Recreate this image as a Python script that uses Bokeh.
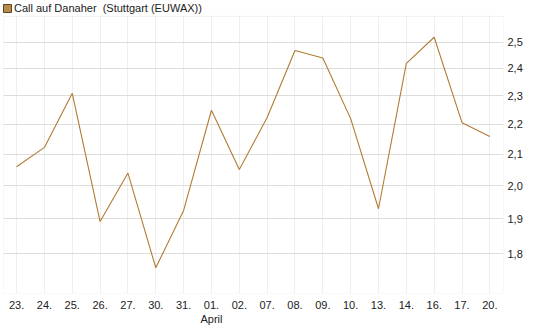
from bokeh.plotting import figure
from bokeh.models import (Range1d, FixedTicker, CustomJSTickFormatter, Legend, LegendItem,
                          ColumnDataSource, BoxAnnotation)
from bokeh.embed import file_html
from bokeh.resources import INLINE

# ---- data ----
date_labels = ["23.", "24.", "25.", "26.", "27.", "30.", "31.", "01.\nApril", "02.", "07.",
               "08.", "09.", "10.", "13.", "14.", "16.", "17.", "20."]
prices = [2.06, 2.123, 2.309, 1.892, 2.04, 1.761, 1.925, 2.249, 2.051, 2.224,
          2.468, 2.439, 2.22, 1.93, 2.419, 2.519, 2.206, 2.159]
y_ticks = [1.8, 1.9, 2.0, 2.1, 2.2, 2.3, 2.4, 2.5]
series_name = "Call auf Danaher  (Stuttgart (EUWAX))"
y_low, y_high = 1.692, 2.602      # visible value range of the plot box
y_canvas_top = 2.667              # value at the very top of the canvas (legend strip)

x_idx = list(range(len(prices)))
src = ColumnDataSource(dict(x=x_idx, y=prices))

FONT = "Liberation Sans"
LINE_COLOR = "#B07C33"
BORDER = "#CFCFCF"

p = figure(width=545, height=327, output_backend="svg", toolbar_location=None,
           y_axis_type="log", y_axis_location="right",
           x_range=Range1d(-0.47, 17.49), y_range=Range1d(y_low, y_canvas_top),
           min_border_left=3, min_border_right=42, min_border_top=0, min_border_bottom=34)

p.background_fill_color = "white"
p.border_fill_color = "white"
p.outline_line_color = None

line_r = p.line("x", "y", source=src, line_color=LINE_COLOR, line_width=1.1)

# x axis
xa = p.xaxis[0]
xa.ticker = FixedTicker(ticks=x_idx)
xa.major_label_overrides = {i: lab for i, lab in enumerate(date_labels)}
xa.major_tick_out = 0
xa.major_tick_in = 0
xa.minor_tick_out = 0
xa.minor_tick_in = 0
xa.axis_line_color = None
xa.major_label_standoff = 5
xa.major_label_text_font = FONT
xa.major_label_text_font_size = "11px"
xa.major_label_text_color = "#222222"

# y axis
ya = p.yaxis[0]
ya.ticker = FixedTicker(ticks=y_ticks, minor_ticks=[])
ya.formatter = CustomJSTickFormatter(code="return tick.toFixed(1).replace('.', ',');")
ya.major_tick_out = 0
ya.major_tick_in = 0
ya.minor_tick_out = 0
ya.minor_tick_in = 0
ya.axis_line_color = None
ya.major_label_standoff = 4
ya.major_label_text_font = FONT
ya.major_label_text_font_size = "11px"
ya.major_label_text_color = "#222222"

# grids
p.xgrid.grid_line_color = "#EEEEEE"
p.xgrid.ticker = FixedTicker(ticks=x_idx)
p.ygrid.grid_line_color = "#DDDDDD"
p.ygrid.ticker = FixedTicker(ticks=y_ticks, minor_ticks=[])

# white strip above the plot box (legend area) and the plot box border
strip = BoxAnnotation(bottom=y_high, fill_color="white", fill_alpha=1.0, line_color=None)
box = BoxAnnotation(top=y_high, fill_alpha=0, line_color=BORDER, line_width=1)
p.add_layout(strip)
p.add_layout(box)

# legend swatch: an off-screen quad, used only for the legend entry
swatch = p.quad(left=[-100], right=[-99], bottom=[2.0], top=[2.1],
                fill_color="#B88A4E", line_color="#5E4320", line_width=1)
legend = Legend(items=[LegendItem(label=series_name, renderers=[swatch])],
                location=(-1, 279), orientation="horizontal",
                padding=0, margin=0, spacing=0,
                glyph_width=10, glyph_height=10, label_standoff=2,
                label_height=11, label_text_font=FONT, label_text_font_size="11px",
                label_text_color="#222222", border_line_color=None,
                background_fill_alpha=0)
p.add_layout(legend)

open("out.html", "w").write(file_html(p, INLINE))
